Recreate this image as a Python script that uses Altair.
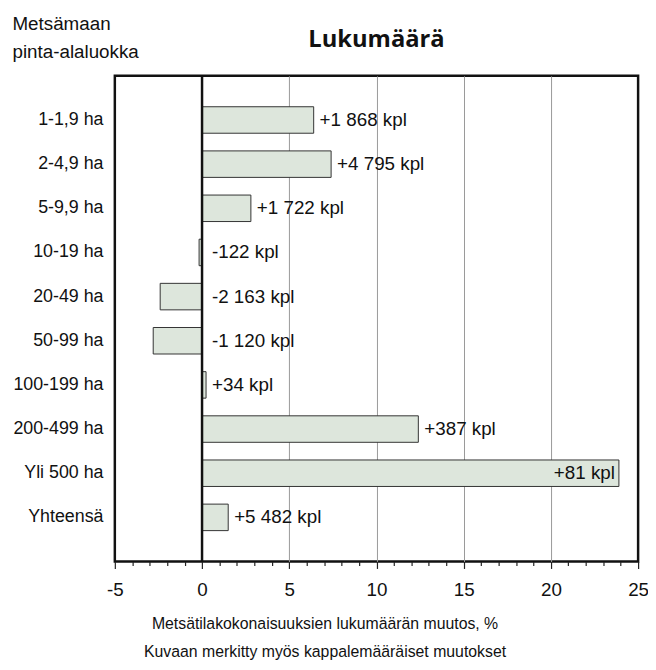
import altair as alt
import pandas as pd

categories = ["1-1,9 ha", "2-4,9 ha", "5-9,9 ha", "10-19 ha", "20-49 ha",
              "50-99 ha", "100-199 ha", "200-499 ha", "Yli 500 ha", "Yhteensä"]
change_pct = [6.4, 7.4, 2.8, -0.17, -2.4, -2.8, 0.23, 12.4, 23.9, 1.5]
count_labels = ["+1 868 kpl", "+4 795 kpl", "+1 722 kpl", "-122 kpl", "-2 163 kpl",
                "-1 120 kpl", "+34 kpl", "+387 kpl", "+81 kpl", "+5 482 kpl"]
x_ticks = list(range(-5, 26))

df = pd.DataFrame({"cat": categories, "v": change_pct, "lab": count_labels})

FONT = "Liberation Sans"
FS = 19

x_scale = alt.Scale(domain=[-5, 25], nice=False, zero=False)
x_axis = alt.Axis(
    values=x_ticks,
    labelExpr="datum.value % 5 === 0 ? toString(datum.value) : ''",
    tickSize={"condition": {"test": "datum.value % 5 === 0", "value": 7}, "value": 4},
    tickColor="#222", tickWidth=1.2,
    grid=True,
    gridColor="#999999", gridWidth=1,
    gridOpacity={"condition": {"test": "datum.value % 5 === 0 && datum.value > -5 && datum.value < 25 && datum.value !== 0", "value": 1}, "value": 0},
    domain=False,
    labelFont=FONT, labelFontSize=FS, labelColor="#111", labelPadding=12,
    labelFlush=False,
    title=["Metsätilakokonaisuuksien lukumäärän muutos, %",
           "Kuvaan merkitty myös kappalemääräiset muutokset"],
    titleFont=FONT, titleFontSize=16, titleFontWeight="normal", titleColor="#111",
    titleX=212, titleY=68, titleAlign="center", titleBaseline="alphabetic",
    titleLineHeight=28,
)
y_enc = alt.Y(
    "cat:N", sort=categories,
    scale=alt.Scale(paddingInner=0.4, paddingOuter=0.7),
    axis=alt.Axis(
        ticks=False, domain=False, grid=False,
        labelFont=FONT, labelFontSize=18, labelColor="#111", labelPadding=12,
        title=["Metsämaan", "pinta-alaluokka"],
        titleFont=FONT, titleFontSize=FS, titleFontWeight="normal", titleColor="#111",
        titleAngle=0, titleAlign="left", titleBaseline="alphabetic",
        titleX=-104, titleY=-47, titleLineHeight=28,
    ),
)

base = alt.Chart(df)

bars = base.mark_bar(color="#dde6dc", stroke="#333333", strokeWidth=1).encode(
    x=alt.X("v:Q", scale=x_scale, axis=x_axis),
    y=y_enc,
)

zero = alt.Chart(pd.DataFrame({"z": [0]})).mark_rule(color="#111", strokeWidth=2.5).encode(
    x=alt.X("z:Q", scale=x_scale, axis=x_axis)
)

txt_kw = dict(font=FONT, fontSize=FS, color="#111", baseline="middle")

pos_labels = base.transform_filter(
    "datum.v > 0 && datum.cat !== 'Yli 500 ha'"
).mark_text(align="left", dx=6, **txt_kw).encode(
    x=alt.X("v:Q", scale=x_scale, axis=x_axis), y=y_enc, text="lab:N"
)

neg_labels = base.transform_filter("datum.v < 0").transform_calculate(
    lx="0"
).mark_text(align="left", dx=10, **txt_kw).encode(
    x=alt.X("lx:Q", scale=x_scale, axis=x_axis), y=y_enc, text="lab:N"
)

in_labels = base.transform_filter("datum.cat === 'Yli 500 ha'").mark_text(
    align="right", dx=-4, **txt_kw
).encode(
    x=alt.X("v:Q", scale=x_scale, axis=x_axis), y=y_enc, text="lab:N"
)

chart = alt.layer(bars, pos_labels, neg_labels, in_labels, zero).properties(
    width=529, height=491,
    autosize=alt.AutoSizeParams(type="none"),
    padding={"left": 108, "top": 65, "right": 10, "bottom": 98},
    title=alt.TitleParams(
        "Lukumäärä", font="Open Sans", fontSize=24, fontWeight="bold", color="#111",
        anchor="middle", frame="group", baseline="alphabetic", offset=0, dy=57,
    ),
).configure_view(stroke="#111", strokeWidth=2.5)

chart.save("out.html", embed_options={"renderer": "svg", "actions": False})
